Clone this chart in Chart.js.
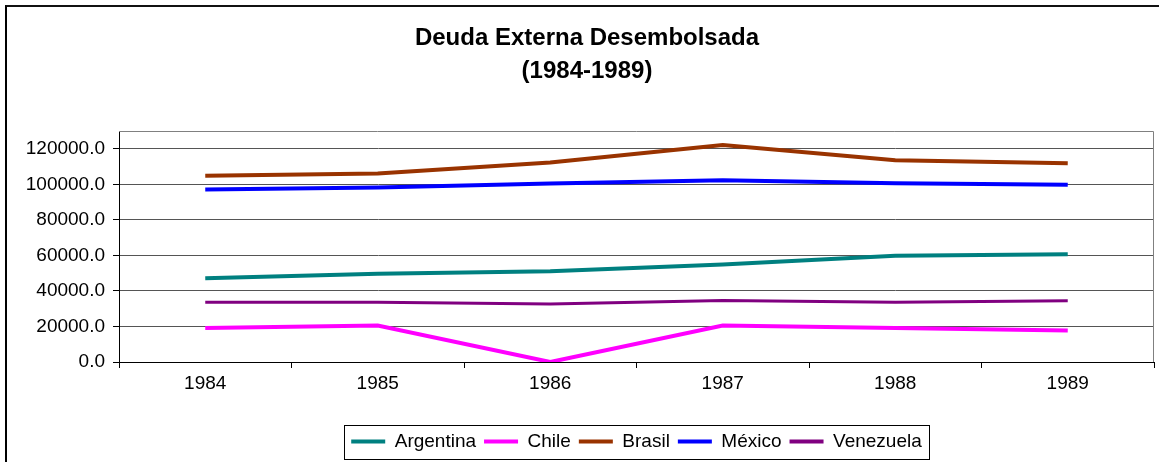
<!DOCTYPE html>
<html><head><meta charset="utf-8">
<script src="https://cdn.jsdelivr.net/npm/chart.js@4/dist/chart.umd.min.js"></script>
<style>
html,body{margin:0;padding:0;background:#fff;overflow:hidden}
#wrap{position:relative;width:1159px;height:462px;overflow:hidden}
#frame{position:absolute;left:5px;top:5px;width:1200px;height:500px;border-left:2px solid #000;border-top:2px solid #111}
canvas{position:absolute;left:0;top:0}
</style></head><body>
<div id="wrap"><div id="frame"></div><canvas id="c" width="1159" height="462"></canvas></div>
<script>
const years = ['1984', '1985', '1986', '1987', '1988', '1989'];
const argentina = [47200, 49700, 51100, 54900, 59800, 60700];
const chile = [19200, 20500, 0, 20500, 19200, 17700];
const brasil = [104800, 106100, 112300, 122100, 113600, 111800];
const mexico = [97100, 98200, 100500, 102300, 100600, 99700];
const venezuela = [33600, 33600, 32700, 34600, 33600, 34400];
const yTicks = [0, 20000, 40000, 60000, 80000, 100000, 120000];
const yMax = 130000;
const titleLines = ['Deuda Externa Desembolsada', '(1984-1989)'];

Chart.defaults.font.family = "'Liberation Sans', Arial, sans-serif";
Chart.defaults.font.size = 19;
Chart.defaults.color = '#000';

const tweak = {
  id: 'tweak',
  afterLayout(chart) {
    const ca = chart.chartArea;
    const lg = chart.legend;
    if (lg) {
      const d = (ca.left + ca.right) / 2 - (lg.left + lg.right) / 2;
      lg.left += d; lg.right += d;
    }
    const tb = chart.titleBlock;
    if (tb) { tb.left += 10; tb.right += 10; }
  },
  beforeDatasetsDraw(chart) {
    const {ctx, chartArea: ca} = chart;
    ctx.save();
    ctx.strokeStyle = '#808080';
    ctx.lineWidth = 1;
    ctx.beginPath();
    ctx.moveTo(ca.left, Math.round(ca.top) + 0.5);
    ctx.lineTo(Math.round(ca.right) - 0.5, Math.round(ca.top) + 0.5);
    ctx.lineTo(Math.round(ca.right) - 0.5, ca.bottom);
    ctx.stroke();
    ctx.restore();
  },
  afterDraw(chart) {
    const lg = chart.legend;
    if (!lg || !lg.lineWidths) return;
    const ctx = chart.ctx;
    const pad = lg.options.labels.padding;
    const lw = lg.lineWidths[0];
    const x0 = (lg.left + pad + lg.right - lw) / 2;
    const yc = lg.top + pad + 19 / 2;
    ctx.save();
    ctx.strokeStyle = '#000';
    ctx.lineWidth = 1;
    ctx.strokeRect(Math.round(x0 - 7) + 0.5, Math.round(yc - 17) + 0.5, Math.round(lw - pad + 14), 34);
    ctx.restore();
  }
};

function ds(label, data, color, width) {
  return {label, data, borderColor: color, backgroundColor: color, borderWidth: width,
    pointRadius: 0, pointHoverRadius: 0, tension: 0, fill: false};
}

new Chart(document.getElementById('c'), {
  type: 'line',
  data: {
    labels: years,
    datasets: [
      ds('Argentina', argentina, '#008080', 4),
      ds('Chile', chile, '#FF00FF', 4),
      ds('Brasil', brasil, '#993300', 4),
      ds('México', mexico, '#0000FF', 4),
      ds('Venezuela', venezuela, '#800080', 3)
    ]
  },
  options: {
    responsive: false,
    animation: false,
    layout: {padding: {left: 0, right: 5, top: 0, bottom: 1}},
    plugins: {
      title: {
        display: true, text: titleLines, color: '#000',
        font: {size: 24, weight: 'bold', lineHeight: 1.375},
        padding: {top: 22, bottom: 43}
      },
      legend: {
        position: 'bottom',
        labels: {
          boxWidth: 34, boxHeight: 4, padding: 8, color: '#000',
          font: {size: 19},
          generateLabels(chart) {
            return Chart.defaults.plugins.legend.labels.generateLabels(chart)
              .map(l => Object.assign(l, {lineWidth: 0}));
          }
        }
      },
      tooltip: {enabled: false}
    },
    scales: {
      x: {
        offset: true,
        grid: {offset: true, drawOnChartArea: false, tickLength: 6, color: '#000'},
        border: {color: '#000', width: 1},
        ticks: {padding: 4, color: '#000', maxRotation: 0},
        afterFit(scale) { scale.height = 62; }
      },
      y: {
        min: 0, max: yMax,
        afterBuildTicks(scale) { scale.ticks = yTicks.map(v => ({value: v})); },
        grid: {color: '#555', lineWidth: 1, tickLength: 6, tickColor: '#000'},
        border: {color: '#000', width: 1},
        ticks: {padding: 8, color: '#000', callback: v => Number(v).toFixed(1)},
        afterFit(scale) { scale.width = 119; }
      }
    }
  },
  plugins: [tweak]
});
</script>
</body></html>
